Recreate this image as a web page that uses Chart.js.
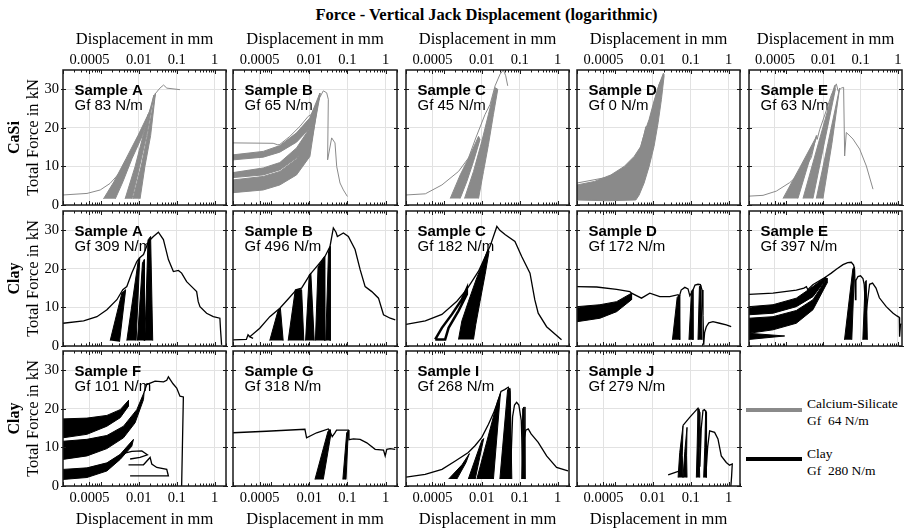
<!DOCTYPE html>
<html>
<head>
<meta charset="utf-8">
<script src="https://cdn.jsdelivr.net/npm/chart.js@4.4.1/dist/chart.umd.min.js"></script>
<style>
  html, body { margin: 0; padding: 0; background: #fff; }
  #fig { position: relative; width: 913px; height: 530px; overflow: hidden;
         font-family: "Liberation Serif", "Times New Roman", serif; color: #000; }
  #fig canvas { position: absolute; }
  .fig-title { position: absolute; top: 5px; left: 486.5px; transform: translateX(-50%);
               white-space: nowrap; font-weight: bold; font-size: 16.5px; line-height: 20px; }
  .leg-line { position: absolute; left: 746px; width: 56px; height: 4px; }
  .leg-text { position: absolute; left: 807px; font-size: 13.5px; line-height: 17.5px; white-space: pre; }
</style>
</head>
<body>
<div id="fig">
  <div class="fig-title">Force - Vertical Jack Displacement (logarithmic)</div>
  <div class="leg-line" style="top:408px;background:#8a8a8a"></div>
  <div class="leg-text" style="top:394.7px">Calcium-Silicate<br>Gf  64 N/m</div>
  <div class="leg-line" style="top:457px;background:#000"></div>
  <div class="leg-text" style="top:444.7px">Clay<br>Gf  280 N/m</div>
</div>
<script>
// axis ticks and panel labels
const xTicks = [0.0005, 0.01, 0.1, 1];
const yTicks = [0, 10, 20, 30];
const rowLabels = ["CaSi", "Clay", "Clay"];
const sampleNames = [["A", "B", "C", "D", "E"], ["A", "B", "C", "D", "E"], ["F", "G", "I", "J"]];
const gfValues = [[83, 65, 45, 0, 63], [309, 496, 182, 172, 397], [101, 318, 268, 279]];

// displacement (mm), force (kN)
// --- Calcium-Silicate row ---
const casiA_env = [[1e-4,2.6],[4.3e-4,3.0],[9.6e-4,3.9],[1.75e-3,5.6],[2.9e-3,8.0],[4.8e-3,11.0],[7.9e-3,14.9],[9.5e-3,16.0],[1.32e-2,19.7],[1.79e-2,23.6],[2.3e-2,26.2],[2.7e-2,28.8],[3.6e-2,30.3],[4.5e-2,31.1],[5.5e-2,30.3],[0.122,29.9]];
const casiA_bands = [
  [[1.17e-3,1.6],[2.2e-3,6],[4.6e-3,12],[9.5e-3,18],[1.79e-2,23.6],[1.25e-2,18],[6.6e-3,12],[3.8e-3,6],[2.4e-3,1.6]],
  [[4.35e-3,1.6],[8.0e-3,10],[1.3e-2,18],[2.5e-2,28.5],[1.6e-2,18],[1.05e-2,10],[6.6e-3,1.6]],
  [[7.0e-3,1.6],[1.15e-2,10],[1.7e-2,18],[2.75e-2,29.0],[2.05e-2,18],[1.45e-2,10],[1.08e-2,1.6]]
];
const casiB_env = [[1e-4,16.1],[1.13e-3,16.0],[1.5e-3,15.6],[1.69e-3,15.7],[3.1e-3,17.8],[5.7e-3,20.4],[9.4e-3,23.0],[1.15e-2,23.5],[1.5e-2,26],[2.33e-2,29.6],[2.86e-2,29.1],[3.16e-2,27.4],[3.03e-2,11.7],[3.87e-2,17.4],[4.73e-2,16.1],[5.24e-2,10],[6.4e-2,5.7],[7.85e-2,3.9],[0.1,2.2]];
const casiB_bands = [
  [[1e-4,13.0],[6.2e-4,13.9],[1.69e-3,15.4],[4.64e-3,18.7],[1.04e-2,22.6],[1.9e-2,29.0],[1.9e-2,28.3],[1.15e-2,20.4],[4.64e-3,16.3],[1.69e-3,13.7],[6.2e-4,12.4],[1e-4,11.7]],
  [[1e-4,8.4],[6.2e-4,9.6],[1.69e-3,11.0],[4.64e-3,14.8],[1.04e-2,20.0],[1.83e-2,28.4],[1.83e-2,27.4],[1.15e-2,16.5],[4.64e-3,12.2],[1.69e-3,9.1],[6.2e-4,7.8],[1e-4,7.1]],
  [[1e-4,6.5],[6.2e-4,7.4],[1.69e-3,8.7],[4.64e-3,11.9],[1.15e-2,18.3],[1.76e-2,27.8],[1.69e-2,26.5],[1.04e-2,12.6],[4.64e-3,7.8],[1.69e-3,5.2],[6.2e-4,3.9],[1e-4,3.2]]
];
const casiC_env = [[1e-4,2.6],[3.23e-4,2.9],[8.86e-4,5.2],[2.43e-3,8.7],[4.46e-3,12.2],[6.95e-3,17.4],[1.22e-2,23.5],[1.66e-2,26.1],[2.24e-2,30.9],[3.03e-2,33.9],[3.71e-2,35.0],[4.28e-2,33.5],[4.83e-2,30.9]];
const casiC_bands = [
  [[1.47e-3,1.7],[2.69e-3,7.8],[4.93e-3,13.0],[8.2e-3,17.8],[9.0e-3,17.0],[6.04e-3,11.3],[4.03e-3,6.1],[2.69e-3,1.7]],
  [[3.5e-3,1.7],[6.04e-3,8.7],[1.0e-2,16.5],[1.5e-2,23.5],[2.24e-2,30.4],[2.64e-2,30.0],[2.03e-2,23.5],[1.5e-2,15.7],[1.11e-2,8.7],[8.2e-3,1.7]]
];
const casiD_env = [[1e-4,5.7],[6.4e-4,7.2],[2.15e-3,10.0],[4.37e-3,13.7],[5.9e-3,18.3],[6.54e-3,20.3],[7.24e-3,19.1],[9.8e-3,24.8],[1.47e-2,31.3],[1.99e-2,33.9]];
const casiD_bands = [
  [[1e-4,5.2],[2.86e-4,6.1],[7.85e-4,7.8],[1.76e-3,10.0],[3.23e-3,12.6],[4.83e-3,15.2],[6.2e-3,19.1],[8.0e-3,22.2],[1.08e-2,27.0],[1.47e-2,31.3],[1.91e-2,34.2],[1.99e-2,33.5],[1.69e-2,27.4],[1.38e-2,21.3],[1.08e-2,15.2],[8.0e-3,10.0],[5.9e-3,5.7],[4.37e-3,2.6],[3.57e-3,1.3],[6.4e-4,1.1],[1e-4,1.3]]
];
const casiE_env = [[1e-4,2.3],[2.38e-4,2.5],[5.43e-4,3.6],[1.24e-3,5.8],[2.83e-3,8.8],[4.75e-3,12.3],[6.46e-3,18.0],[6.8e-3,17.0],[7.94e-3,19.5],[1.2e-2,24.5],[1.63e-2,28.5],[2.23e-2,31.4],[2.5e-2,29.5],[3.03e-2,30.3],[3.5e-2,30.5],[3.73e-2,12.7],[4.13e-2,18.8],[4.58e-2,18.4],[6.25e-2,17.1],[9.44e-2,14.5],[0.143,10.1],[0.216,4.1]];
const casiE_bands = [
  [[8.2e-4,1.7],[2.35e-3,9.8],[6.7e-3,18.0],[3.7e-3,9.8],[2.07e-3,1.7]],
  [[2.83e-3,1.7],[7.5e-3,16.3],[2.01e-2,31.0],[2.1e-2,30.0],[1.06e-2,16.1],[5.25e-3,1.7]],
  [[6.46e-3,1.7],[1.33e-2,16.0],[2.73e-2,30.3],[1.7e-2,16.0],[9.75e-3,1.7]]
];

// --- Clay, first row ---
const clayA_env = [[1e-4,5.9],[3.5e-4,6.5],[7.85e-4,7.6],[1.44e-3,9.4],[2.64e-3,12.0],[3.79e-3,14.6],[4.83e-3,15.4],[6.54e-3,18.9],[8.86e-3,21.9],[1.04e-2,22.8],[1.33e-2,23.7],[1.8e-2,27.1],[2.43e-2,28.4],[3.29e-2,29.5],[4.46e-2,27.6],[5.2e-2,25],[6.04e-2,22.4],[8.17e-2,19.3],[0.111,19.6],[0.135,18.9],[0.183,16.7],[0.248,15.4],[0.336,14.1],[0.37,11.5],[0.411,10.2],[0.615,8.5],[0.923,7.6],[1.38,7.2],[1.44,4],[1.53,0.3]];
const clayA_bands = [
  [[1.76e-3,1.4],[3.57e-3,13.7],[4.5e-3,14.6],[3.1e-3,1.1]],
  [[4.83e-3,1.4],[9.6e-3,21.9],[1.06e-2,22.8],[8.5e-3,1.4]],
  [[9.2e-3,1.4],[1.25e-2,21.5],[1.4e-2,22.4],[1.4e-2,1.4]],
  [[1.44e-2,1.4],[1.75e-2,27.5],[2.05e-2,28.4],[2.33e-2,1.4]]
];
const clayB_env = [[1e-4,1.6],[2.24e-4,1.7],[2.48e-4,2.9],[2.75e-4,2.4],[3.36e-4,2.0],[2.75e-4,2.4],[5.03e-4,4.6],[9.23e-4,7.6],[1.69e-3,9.8],[2.8e-3,12.2],[4.64e-3,14.6],[6.28e-3,15.0],[1.04e-2,18.5],[1.73e-2,21.1],[2.58e-2,23.2],[3.5e-2,25.8],[4.28e-2,30.6],[5.03e-2,29.5],[5.46e-2,28.4],[7.85e-2,29.3],[0.106,28.4],[0.159,25.0],[0.216,19.8],[0.292,15.4],[0.437,14.1],[0.654,12.4],[0.886,8.1],[1.33,7.2],[1.8,6.8]];
const clayB_bands = [
  [[9.2e-4,1.4],[1.5e-3,9.0],[1.75e-3,9.8],[2.07e-3,1.4]],
  [[2.8e-3,1.4],[4.3e-3,14.6],[6.3e-3,14.6],[7.2e-3,1.4]],
  [[8.0e-3,1.4],[1.0e-2,18.5],[1.1e-2,18.9],[1.35e-2,1.4]],
  [[1.45e-2,1.4],[1.7e-2,20.5],[2.5e-2,23.2],[2.55e-2,1.4]],
  [[2.7e-2,1.4],[3.2e-2,24.5],[3.5e-2,25.8],[3.55e-2,1.4]]
];
const clayC_env = [[1e-4,5.6],[3.23e-4,6.5],[8.86e-4,8.2],[2.2e-3,11.6],[4.03e-3,14.7],[8.2e-3,19.4],[1.66e-2,25.9],[2.5e-2,31.0],[3.0e-2,30.0],[4.1e-2,28.9],[7.5e-2,27.1],[0.113,23.2],[0.187,18.9],[0.25,12],[0.308,8.5],[0.513,5.0],[1.27,1.6]];
const clayC_loops = [
  [[5.9e-4,1.7],[8.86e-4,4.7],[1.62e-3,8.2],[2.98e-3,12.1],[4.03e-3,14.9],[4.03e-3,13.4],[2.43e-3,9.1],[1.33e-3,4.7],[1.08e-3,1.7],[5.9e-4,1.7]]
];
const clayC_bands = [
  [[2.43e-3,1.7],[2.98e-3,6.5],[4.46e-3,11.6],[7.38e-3,17.7],[1.11e-2,22.0],[1.44e-2,25.0],[1.56e-2,24.6],[1.22e-2,18.5],[9.0e-3,11.6],[6.95e-3,5.6],[6.04e-3,1.7]]
];
const clayD_env = [[1e-4,15.4],[3.3e-4,15.3],[1.11e-3,14.7],[2.48e-3,14.1],[2.75e-3,13.7],[5.03e-3,12.4],[8.34e-3,13.7],[1.53e-2,12.8],[2.8e-2,12.8],[4.65e-2,13.3],[5.0e-2,12.8],[5.6e-2,14.5],[7.0e-2,15.2],[8.5e-2,14.8],[9.5e-2,13],[0.115,14.5],[0.13,15.8],[0.156,16.0],[0.18,15.9],[0.2,14.5],[0.211,8],[0.22,0.3],[0.233,3.5],[0.258,5.0],[0.3,6.0],[0.387,6.3],[0.58,5.9],[0.869,5.5],[1.17,5.0]];
const clayD_bands = [
  [[1e-4,10.2],[4.03e-4,10.7],[1.11e-3,11.5],[2.75e-3,13.7],[2.75e-3,12.0],[1.11e-3,8.9],[4.03e-4,7.2],[1e-4,6.3]],
  [[3.3e-2,1.6],[4.4e-2,12.6],[5.0e-2,13.2],[5.14e-2,1.6]],
  [[9.0e-2,1.6],[0.105,14.2],[0.113,14.6],[0.115,1.6]],
  [[0.156,1.6],[0.17,15.4],[0.185,15.8],[0.2,1.6]]
];
const clayE_env = [[1e-4,13.4],[4.4e-4,13.7],[1.87e-3,14.5],[3e-3,15.0],[3.5e-3,15.4],[3.8e-3,14.6],[5.2e-3,15.9],[1.15e-2,17.9],[1.63e-2,18.9],[2.23e-2,19.9],[3.37e-2,21.1],[4.5e-2,21.6],[5.64e-2,21.7],[6.5e-2,21.0],[6.9e-2,19.8],[7.3e-2,12],[7.5e-2,17],[8.5e-2,18.0],[0.1,18.2],[0.116,17.5],[0.125,16],[0.14,8],[0.155,12],[0.175,16],[0.21,16.3],[0.26,15],[0.32,12.5],[0.49,10.2],[0.75,8.5],[0.95,7.8],[1.1,7.4],[1.12,2.4],[1.18,5.5],[1.25,5.8]];
const clayE_bands = [
  [[1e-4,10.2],[4.42e-4,10.7],[1.87e-3,12.4],[5.25e-3,15.4],[1.15e-2,17.9],[1.15e-2,17.2],[5.25e-3,12.8],[1.87e-3,10.2],[4.42e-4,8.5],[1e-4,8.1]],
  [[1e-4,7.2],[4.42e-4,7.6],[1.87e-3,9.2],[5.25e-3,12.0],[1.25e-2,17.6],[1.25e-2,16.3],[5.25e-3,9.4],[1.87e-3,5.9],[4.42e-4,4.2],[1e-4,3.3]],
  [[1e-4,3.3],[9.1e-4,2.6],[1e-4,1.7]],
  [[3.7e-2,1.6],[6.2e-2,20],[6.9e-2,20.5],[5.8e-2,1.6]],
  [[0.115,1.6],[0.133,16.5],[0.142,17],[0.152,1.6]]
];

// --- Clay, second row ---
const clayF_env = [[1.38e-2,24.3],[1.62e-2,26.3],[2.69e-2,27.2],[4.5e-2,27.0],[5.46e-2,27.4],[6.04e-2,28.3],[8e-2,26.5],[0.1,25.4],[0.122,23.3],[0.15,23.1],[0.135,0]];
const clayF_thin1 = [[3.57e-3,8.3],[6.54e-3,9.0],[1.2e-2,9.1],[1.69e-2,8.1],[1.08e-2,7.4],[5.9e-3,7.0]];
const clayF_thin2 = [[5.35e-3,5.5],[1.33e-2,5.5],[1.99e-2,7.4],[2.2e-2,5.7],[2.98e-2,4.8],[5.46e-2,4.3],[6.04e-2,2.6],[5.9e-3,2.6]];
const clayF_bands = [
  [[1e-4,17.4],[4.28e-4,17.6],[1.44e-3,18.3],[3.23e-3,19.8],[5.35e-3,22.2],[5.35e-3,20.7],[3.23e-3,17.7],[1.44e-3,15.5],[4.28e-4,13.4],[1e-4,12.5]],
  [[1e-4,11.6],[4.28e-4,12.1],[1.44e-3,13.1],[3.95e-3,15.5],[8.86e-3,19.8],[1.38e-2,24.3],[1.33e-2,22.4],[8.0e-3,16.4],[3.95e-3,12.5],[1.44e-3,9.7],[4.28e-4,7.8],[1e-4,6.9]],
  [[1e-4,4.3],[4.28e-4,4.7],[1.44e-3,6.0],[3.23e-3,8.2],[7.24e-3,12.1],[6.54e-3,10.3],[3.23e-3,6.9],[1.44e-3,3.9],[4.28e-4,2.2],[1e-4,1.7]]
];
const clayG_env = [[1e-4,13.8],[7.5e-4,14.2],[7.7e-3,14.7],[8.5e-3,12.5],[1.56e-2,13.8],[3.16e-2,14.8],[3.5e-2,14.2],[4.0e-2,12.8],[4.7e-2,13.8],[5.2e-2,14.5],[6.4e-2,14.5],[0.106,14.5],[0.11,12],[0.122,12.1],[0.144,12.2],[0.216,12.1],[0.323,11.2],[0.535,9.5],[0.886,9.3],[0.98,7.8],[1.08,9.5],[1.33,9.7],[1.8,9.5]];
const clayG_bands = [
  [[1.41e-2,1.7],[3.1e-2,14.2],[3.5e-2,14.6],[3.6e-2,12.8],[2.33e-2,1.7]],
  [[7.6e-2,1.7],[9.6e-2,13.8],[0.106,14.3],[9.2e-2,1.7]]
];
const clayI_env = [[1e-4,2.3],[3.2e-4,3.0],[8.9e-4,4.3],[2.0e-3,6.5],[4.4e-3,8.7],[6.7e-3,10.5],[1.0e-2,12.6],[1.5e-2,16],[2.0e-2,18.7],[2.8e-2,22.5],[3.2e-2,24.5],[4.0e-2,25.0],[5.0e-2,25.6],[5.5e-2,24.5],[5.8e-2,5],[6.5e-2,18],[7.3e-2,21.0],[8.3e-2,21.7],[9.5e-2,21.0],[0.11,17],[0.12,5],[0.13,12],[0.145,14.5],[0.168,14.8],[0.2,13.5],[0.308,11.3],[0.513,7.8],[0.94,4.8],[1.88,3.9]];
const clayI_bands = [
  [[1.33e-3,1.8],[3.0e-3,5.5],[4.7e-3,8.4],[3.8e-3,6],[2.2e-3,1.8]],
  [[4.4e-3,1.8],[1.0e-2,11.8],[1.12e-2,12.3],[6.7e-3,1.8]],
  [[7.4e-3,1.8],[2.6e-2,22],[3.1e-2,24],[2.03e-2,1.8]],
  [[3.0e-2,1.8],[4.8e-2,25],[5.6e-2,25.3],[6.2e-2,1.8]],
  [[0.113,1.8],[0.12,20],[0.13,20.5],[0.138,1.8]]
];
const clayJ_start = [[2.54e-2,2.9],[5.14e-2,3.9]];
const clayJ_env = [[6.28e-2,15.7],[9.4e-2,17.8],[0.156,20.2],[0.173,19.1],[0.175,5],[0.19,15],[0.211,19.6],[0.23,19.8],[0.258,19.1],[0.26,5],[0.28,10],[0.316,14.3],[0.428,13.9],[0.524,12.2],[0.641,7.8],[0.869,6.1],[1.06,5.4],[1.25,5.7],[1.2,2.5],[1.15,0]];
const clayJ_bands = [
  [[4.65e-2,2.2],[5.14e-2,8.7],[6.28e-2,15.7],[6.0e-2,8],[6.28e-2,2.2]],
  [[6.28e-2,2.2],[7.0e-2,9],[8.0e-2,15.2],[7.8e-2,8],[8.0e-2,2.2]],
  [[0.141,2.2],[0.148,10],[0.156,20],[0.165,10],[0.173,2.2]],
  [[0.22,2.2],[0.235,10],[0.249,19.6],[0.255,10],[0.258,2.2]]
];

const GREY = "#8a8a8a";
const BLACK = "#000000";

const panels = [
  { col: 0, row: 0, color: GREY, lines: [casiA_env], bands: casiA_bands },
  { col: 1, row: 0, color: GREY, lines: [casiB_env], bands: casiB_bands },
  { col: 2, row: 0, color: GREY, lines: [casiC_env], bands: casiC_bands },
  { col: 3, row: 0, color: GREY, lines: [casiD_env], bands: casiD_bands },
  { col: 4, row: 0, color: GREY, lines: [casiE_env], bands: casiE_bands },
  { col: 0, row: 1, color: BLACK, lines: [clayA_env], bands: clayA_bands },
  { col: 1, row: 1, color: BLACK, lines: [clayB_env], bands: clayB_bands },
  { col: 2, row: 1, color: BLACK, lines: [clayC_env], bands: clayC_bands, loops: clayC_loops },
  { col: 3, row: 1, color: BLACK, lines: [clayD_env], bands: clayD_bands },
  { col: 4, row: 1, color: BLACK, lines: [clayE_env], bands: clayE_bands },
  { col: 0, row: 2, color: BLACK, lines: [clayF_env, clayF_thin1, clayF_thin2], bands: clayF_bands },
  { col: 1, row: 2, color: BLACK, lines: [clayG_env], bands: clayG_bands },
  { col: 2, row: 2, color: BLACK, lines: [clayI_env], bands: clayI_bands },
  { col: 3, row: 2, color: BLACK, lines: [clayJ_start, clayJ_env], bands: clayJ_bands }
];

// page geometry of the plot boxes
const colLeft = [63, 233, 406, 577, 749];
const colWidth = [163, 164, 163, 163, 153];
const colXMax = [2, 2, 2, 2, 1.3];
const rowTop = [70, 211, 351];
const rowHeight = 135;
const MARGIN = 16;
const GRID = "#e2e2e2";

Chart.defaults.font.family = "'Liberation Serif', 'Times New Roman', serif";
Chart.defaults.color = "#000";

const toXY = (pts) => pts.map(([x, y]) => ({ x, y }));

// sample name + fracture energy, drawn under the data
const sampleLabel = {
  id: "sampleLabel",
  beforeDatasetsDraw(chart, args, opts) {
    const { ctx, chartArea: ca } = chart;
    ctx.save();
    ctx.fillStyle = "#000";
    ctx.textBaseline = "alphabetic";
    ctx.textAlign = "left";
    ctx.font = "bold 15px 'Liberation Sans', Arial, sans-serif";
    ctx.fillText(opts.name, ca.left + 11.5, ca.top + 24.5);
    ctx.font = "15px 'Liberation Sans', Arial, sans-serif";
    ctx.fillText(opts.gf, ca.left + 11.5, ca.top + 39.5);
    ctx.restore();
  }
};

// box around each axes plus small inward ticks
const axesBox = {
  id: "axesBox",
  afterDraw(chart) {
    const { ctx, chartArea: ca, scales } = chart;
    const x = scales.x, y = scales.y;
    ctx.save();
    ctx.strokeStyle = "#1a1a1a";
    ctx.lineWidth = 1;
    ctx.beginPath();
    for (let e = -4; e <= 0; e++) {
      for (let m = 1; m <= 9; m++) {
        const v = m * Math.pow(10, e);
        if (v < x.min || v > x.max) continue;
        const px = Math.round(x.getPixelForValue(v)) + 0.5;
        const len = (m === 1 || xTicks.includes(v)) ? 4 : 2.5;
        ctx.moveTo(px, ca.top); ctx.lineTo(px, ca.top + len);
        ctx.moveTo(px, ca.bottom); ctx.lineTo(px, ca.bottom - len);
      }
    }
    yTicks.forEach((v) => {
      const py = Math.round(y.getPixelForValue(v)) + 0.5;
      ctx.moveTo(ca.left - 2, py); ctx.lineTo(ca.left + 3, py);
      ctx.moveTo(ca.right + 2, py); ctx.lineTo(ca.right - 3, py);
    });
    ctx.stroke();
    ctx.lineWidth = 1.5;
    ctx.strokeRect(ca.left, ca.top, ca.right - ca.left, ca.bottom - ca.top);
    ctx.restore();
  }
};

function buildPanel(p) {
  const fig = document.getElementById("fig");
  const c = p.col, r = p.row;
  const padL = c === 0 ? 58 : MARGIN;
  const padT = r === 0 ? 50 : MARGIN;
  const padB = r === 2 ? 44 : MARGIN;
  const w = colWidth[c] + padL + MARGIN;
  const h = rowHeight + padT + padB;

  const canvas = document.createElement("canvas");
  canvas.width = w;
  canvas.height = h;
  canvas.style.left = (colLeft[c] - padL) + "px";
  canvas.style.top = (rowTop[r] - padT) + "px";
  canvas.style.width = w + "px";
  canvas.style.height = h + "px";
  fig.appendChild(canvas);

  const datasets = [];
  p.bands.forEach((b) => datasets.push({
    data: toXY(b), showLine: true, fill: "shape",
    backgroundColor: p.color, borderColor: p.color, borderWidth: 1, pointRadius: 0
  }));
  (p.loops || []).forEach((b) => datasets.push({
    data: toXY(b), showLine: true, fill: false,
    borderColor: p.color, borderWidth: 2.5, pointRadius: 0
  }));
  p.lines.forEach((l) => datasets.push({
    data: toXY(l), showLine: true, fill: false,
    borderColor: p.color, borderWidth: p.color === GREY ? 1 : 1.3, pointRadius: 0
  }));

  const scales = {
    x: {
      type: "logarithmic",
      position: r === 0 ? "top" : "bottom",
      min: 1e-4,
      max: colXMax[c],
      afterBuildTicks: (s) => { s.ticks = xTicks.map((v) => ({ value: v })); },
      afterFit: (s) => { s.height = r === 0 ? padT : (r === 2 ? padB : 0); },
      grid: { color: GRID, drawTicks: false },
      border: { display: false },
      ticks: {
        display: r !== 1, autoSkip: false, maxRotation: 0,
        padding: r === 0 ? 1 : 3.3,
        font: { size: 14.5 },
        callback: (v) => String(v)
      },
      title: {
        display: r !== 1, text: "Displacement in mm",
        font: { size: 16.5 },
        padding: r === 0 ? { top: 9.5, bottom: 0 } : { top: 0, bottom: 0.5 }
      }
    },
    y: {
      type: "linear",
      position: "left",
      weight: 0,
      min: 0,
      max: 35,
      afterBuildTicks: (s) => { s.ticks = yTicks.map((v) => ({ value: v })); },
      afterFit: (s) => { s.width = c === 0 ? 39 : 0; },
      grid: { color: GRID, drawTicks: false },
      border: { display: false },
      ticks: { display: c === 0, padding: 4, font: { size: 14.5 } },
      title: { display: c === 0, text: "Total Force in kN", font: { size: 16.5 }, padding: 0 }
    }
  };
  if (c === 0) {
    scales.y2 = {
      type: "linear",
      position: "left",
      weight: 1,
      afterFit: (s) => { s.width = 19; },
      grid: { display: false },
      border: { display: false },
      ticks: { display: false },
      title: { display: true, text: rowLabels[r], font: { size: 16, weight: "bold" }, padding: 0 }
    };
  }

  new Chart(canvas, {
    type: "scatter",
    data: { datasets },
    options: {
      responsive: false,
      animation: false,
      devicePixelRatio: 1,
      events: [],
      layout: {
        padding: {
          left: c === 0 ? 0 : MARGIN,
          right: MARGIN,
          top: r === 0 ? 0 : MARGIN,
          bottom: r === 2 ? 0 : MARGIN
        }
      },
      scales,
      plugins: {
        legend: { display: false },
        tooltip: { enabled: false },
        sampleLabel: {
          name: "Sample " + sampleNames[r][c],
          gf: "Gf " + gfValues[r][c] + " N/m"
        }
      }
    },
    plugins: [sampleLabel, axesBox]
  });
}

panels.forEach(buildPanel);
</script>
</body>
</html>
